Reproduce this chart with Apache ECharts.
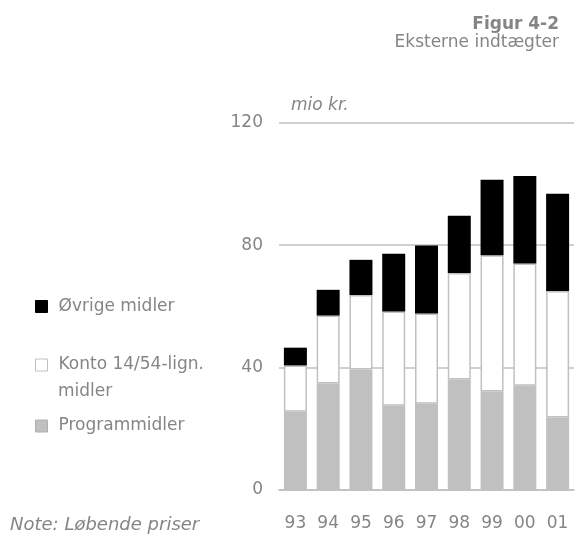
<!DOCTYPE html>
<html>
<head>
<meta charset="utf-8">
<script src="https://cdn.jsdelivr.net/npm/echarts@6/dist/echarts.min.js"></script>
<style>
html,body{margin:0;padding:0;background:#fff;}
#chart{width:575px;height:547px;}
</style>
</head>
<body>
<div id="chart"></div>
<script>
var categories = ['93','94','95','96','97','98','99','00','01'];
var programmidler = [25.6, 34.8, 39.4, 27.5, 28.2, 36.1, 32.2, 34.1, 23.7];
var konto = [15.1, 22.2, 24.3, 30.8, 29.5, 34.8, 44.5, 39.9, 41.3];
var oevrige = [5.8, 8.4, 11.5, 18.9, 22.2, 18.7, 24.7, 28.6, 31.8];
var yTicks = [0, 40, 80, 120];

var gray = '#858585';
var font = '"DejaVu Sans", sans-serif';
var fs = 17;
var chart = echarts.init(document.getElementById('chart'));

function legendFor(name, top, fmt) {
  return {
    data: [{ name: name, icon: 'rect' }], left: 35, top: top, padding: 0,
    itemWidth: 12, itemHeight: 12, selectedMode: false,
    formatter: fmt || '{name}',
    itemStyle: { borderWidth: 1 },
    textStyle: { color: gray, fontSize: fs, fontFamily: font, lineHeight: 18, padding: [0,0,0,6] }
  };
}

chart.setOption({
  animation: false,
  grid: { left: 279, right: 1, top: 122.7, bottom: 57 },
  legend: [
    legendFor('Øvrige midler', 297.5),
    legendFor('Konto 14/54-lign. midler', 356, function(){ return 'Konto 14/54-lign.'; }),
    legendFor('Programmidler', 417)
  ],
  graphic: [
    { type: 'text', x: 559, y: 25, style: { text: 'Figur 4-2', fill: gray, font: 'bold ' + fs + 'px ' + font, align: 'right', verticalAlign: 'middle' } },
    { type: 'text', x: 559, y: 42.5, style: { text: 'Eksterne indtægter', fill: gray, font: fs + 'px ' + font, align: 'right', verticalAlign: 'middle' } },
    { type: 'text', x: 291, y: 106, style: { text: 'mio kr.', fill: gray, font: 'italic ' + fs + 'px ' + font, align: 'left', verticalAlign: 'middle' } },
    { type: 'text', x: 58, y: 392, style: { text: 'midler', fill: gray, font: fs + 'px ' + font, align: 'left', verticalAlign: 'middle' } },
    { type: 'text', x: 10, y: 525.5, style: { text: 'Note: Løbende priser', fill: gray, font: 'italic 18px ' + font, align: 'left', verticalAlign: 'middle' } }
  ],
  xAxis: {
    type: 'category', data: categories,
    axisLine: { lineStyle: { color: '#bfbfbf', width: 1.5 } },
    axisTick: { show: false },
    axisLabel: { color: gray, fontSize: fs, fontFamily: font, margin: 25 }
  },
  yAxis: {
    type: 'value', min: yTicks[0], max: yTicks[yTicks.length-1], interval: 40,
    axisLine: { show: false }, axisTick: { show: false },
    axisLabel: { color: gray, fontSize: fs, fontFamily: font, margin: 16 },
    splitLine: { lineStyle: { color: '#c0c0c0', width: 1.5 } }
  },
  series: [
    { name: 'Programmidler', type: 'bar', stack: 'a', data: programmidler, barWidth: 23,
      itemStyle: { color: '#c0c0c0', borderColor: '#b0b0b0', borderWidth: 0 } },
    { name: 'Konto 14/54-lign. midler', type: 'bar', stack: 'a', data: konto, barWidth: 23,
      itemStyle: { color: '#ffffff', borderColor: '#c0c0c0', borderWidth: 1.5 } },
    { name: 'Øvrige midler', type: 'bar', stack: 'a', data: oevrige, barWidth: 23,
      itemStyle: { color: '#000000', borderColor: '#000000', borderWidth: 0 } }
  ]
});
</script>
</body>
</html>
